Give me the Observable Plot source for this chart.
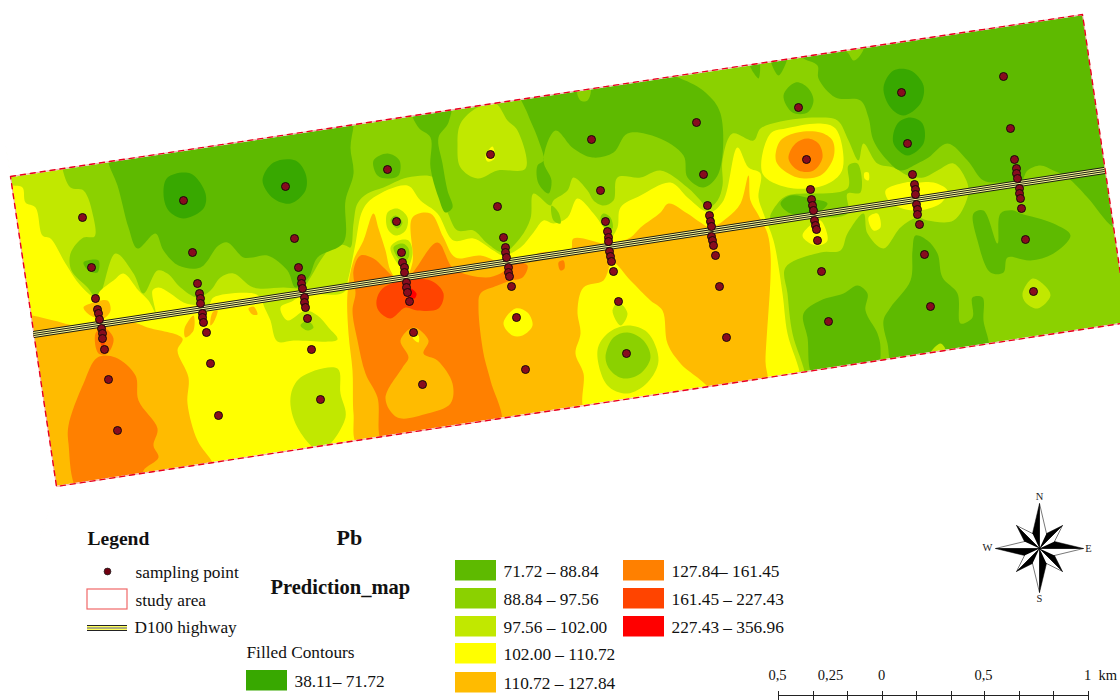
<!DOCTYPE html>
<html>
<head>
<meta charset="utf-8">
<script src="https://cdn.jsdelivr.net/npm/d3@7"></script>
<script src="https://cdn.jsdelivr.net/npm/@observablehq/plot@0.6"></script>
<style>
html,body{margin:0;padding:0;background:#fff;overflow:hidden}
svg{display:block}
</style>
</head>
<body>
<div id="chart"></div>
<script>
const bandLabels = ["38.11– 71.72","71.72 – 88.84","88.84 – 97.56","97.56 – 102.00","102.00 – 110.72","110.72 – 127.84","127.84– 161.45","161.45 – 227.43","227.43 – 356.96"];
const bandColors = ["#38a800","#5eba00","#8bd100","#c1e800","#ffff00","#ffbb00","#ff8000","#ff4400","#ff0000"];
const [B38,B72,B89,B98,B102,B111,B128,B161,B227] = bandLabels;

const studyArea = [[10,176],[1082,14],[1127,322],[56,486],[10,176]];
const outsideArea = [
  [[-20,-20],[1140,-20],[1082,14],[10,176]],
  [[1082,14],[1140,-20],[1140,322],[1127,322]],
  [[56,486],[1127,322],[1140,322],[1140,720],[-20,720]],
  [[10,176],[-20,-20],[-20,720],[56,486]]
];
const highway = [[33,334],[1104,170]];
const samplingPoints = [
 [82,217],[91,267],[95,298],[97,309],[98,313],[99,319],[101,328],[102,333],[102,338],[104,349],[108,379],[117,430],
 [183,200],[192,252],[197,283],[199,293],[200,298],[200,303],[202,313],[202,317],[203,322],[206,332],[210,363],[218,415],
 [285,186],[294,238],[298,267],[301,278],[301,283],[302,288],[304,297],[304,302],[305,307],[307,318],[311,349],[320,399],
 [387,169],[396,221],[401,252],[402,262],[404,267],[404,272],[406,282],[406,287],[407,292],[409,301],[413,332],[422,384],
 [490,154],[497,206],[503,237],[505,247],[505,252],[506,257],[508,267],[508,272],[509,276],[511,286],[516,317],[525,369],
 [591,139],[600,190],[605,221],[607,231],[608,237],[608,241],[609,251],[610,256],[611,261],[613,271],[618,301],[626,353],
 [696,122],[703,174],[707,205],[709,215],[710,221],[711,226],[711,236],[712,240],[713,245],[715,255],[719,286],[726,337],
 [798,107],[806,159],[810,189],[811,199],[812,205],[813,210],[814,220],[815,225],[816,229],[817,240],[821,271],[828,321],
 [901,92],[907,143],[912,174],[914,184],[915,189],[915,194],[916,204],[917,209],[917,214],[919,224],[924,254],[930,306],
 [1003,76],[1010,128],[1014,159],[1016,168],[1016,173],[1017,178],[1019,188],[1019,193],[1020,198],[1021,208],[1025,239],[1033,291]
];

const contourRegions = [
 [B89,[[0,150],[1130,0],[1140,330],[0,520]]],
 // lime main
 [B98,[[5,170],[62,160],[62,168],[70,187],[83,190],[93,217],[94,236],[83,237],[70,253],[71,270],[87,287],[97,298],[115,253],[133,273],[143,293],[157,270],[167,273],[180,287],[197,297],[210,290],[220,277],[233,273],[253,287],[283,287],[302,287],[310,277],[320,260],[333,245],[345,245],[350,247],[353,223],[357,203],[367,193],[383,187],[407,177],[433,177],[437,190],[447,212],[457,230],[473,230],[487,243],[503,252],[520,237],[530,218],[533,193],[550,205],[553,200],[567,190],[573,177],[587,190],[593,200],[603,205],[613,200],[617,177],[640,177],[660,170],[687,187],[700,200],[707,208],[717,200],[722,185],[722,160],[732,133],[753,140],[760,128],[780,121],[817,117],[837,120],[848,140],[858,160],[863,143],[877,163],[893,167],[907,175],[923,177],[937,170],[953,163],[967,183],[967,197],[953,220],[927,220],[917,217],[900,227],[883,248],[867,233],[863,213],[847,233],[840,250],[820,252],[785,267],[787,293],[792,333],[805,378],[800,400],[600,425],[420,450],[200,480],[40,510],[15,340]]],
 // yellow main
 [B102,[[5,185],[12,185],[22,187],[25,202],[35,207],[42,235],[50,238],[65,263],[80,285],[95,297],[100,290],[113,280],[123,273],[138,290],[148,300],[155,312],[152,290],[158,287],[170,293],[183,302],[197,305],[208,305],[213,297],[253,293],[263,298],[302,293],[343,292],[348,277],[355,243],[362,210],[373,197],[407,185],[420,200],[437,213],[453,240],[473,238],[493,250],[503,255],[520,247],[533,232],[543,220],[553,223],[567,217],[577,198],[593,213],[603,227],[610,237],[617,227],[620,207],[640,195],[670,182],[687,197],[703,210],[710,212],[723,200],[737,147],[748,167],[760,173],[758,197],[763,213],[773,240],[782,293],[787,333],[800,378],[795,400],[600,425],[420,450],[200,480],[40,510],[15,340]]],
 [B98,[[263,298],[270,320],[277,341],[293,340],[337,339],[328,327],[317,315],[305,310],[287,320],[280,307],[293,300],[302,293]]],
 [B89,[[300,325],[307,320],[313,327],[307,330]]],
 [B98,[[290,397],[300,377],[337,368],[340,393],[345,417],[320,450],[297,427]]],
 // left orange
 [B111,[[25,315],[31,315],[53,320],[87,327],[93,322],[133,322],[147,327],[182,338],[177,350],[188,377],[187,403],[197,440],[212,462],[214,472],[130,485],[50,495],[32,400]]],
 [B111,[[83,307],[90,303],[107,300],[110,310],[103,318],[90,315]]],
 [B111,[[184,328],[193,315],[193,330],[185,337]]],
 [B111,[[212,312],[217,310],[213,322],[210,325]]],
 [B111,[[248,308],[253,306],[257,314],[252,314]]],
 [B128,[[97,357],[115,357],[135,375],[138,400],[157,428],[153,445],[158,457],[143,470],[143,480],[110,486],[78,490],[68,443],[68,425],[83,383]]],
 [B128,[[95,333],[103,327],[113,338],[107,353],[98,353]]],
 [B161,[[99,335],[105,338],[102,347]]],
 // central orange
 [B111,[[347,293],[353,260],[363,240],[373,213],[378,228],[385,250],[390,270],[398,280],[405,278],[412,262],[412,217],[430,213],[443,237],[455,257],[480,255],[500,262],[517,263],[540,252],[570,250],[573,238],[603,243],[610,243],[630,237],[640,227],[660,212],[668,203],[687,213],[700,222],[710,227],[727,217],[740,203],[748,175],[750,200],[757,213],[767,233],[770,253],[770,277],[765,360],[765,385],[660,402],[560,418],[460,434],[358,445],[353,413],[352,370],[348,333]]],
 [B102,[[612,262],[630,280],[650,300],[662,310],[667,343],[680,363],[708,390],[645,402],[585,410],[583,373],[575,353],[580,333],[577,310],[583,287],[603,280]]],
 [B98,[[612,310],[618,302],[627,313],[620,325]]],
 [B98,[[597,350],[607,333],[627,325],[647,332],[658,360],[647,382],[627,393],[607,385]]],
 [B89,[[605,357],[613,337],[627,332],[643,340],[650,357],[640,373],[623,378],[610,370]]],
 [B102,[[503,323],[515,308],[527,312],[532,325],[522,335],[512,335]]],
 [B128,[[355,293],[353,270],[360,255],[373,258],[383,267],[395,277],[407,277],[437,242],[453,268],[485,277],[500,273],[515,262],[527,265],[522,277],[510,280],[497,285],[480,293],[478,307],[483,353],[490,380],[500,425],[440,434],[383,443],[377,397],[365,373],[357,340],[352,310]]],
 [B128,[[558,262],[563,260],[564,268],[560,270]]],
 [B111,[[385,398],[402,367],[408,357],[400,340],[413,327],[428,340],[423,353],[437,360],[452,383],[450,403],[427,413],[397,417]]],
 [B102,[[412,337],[418,335],[418,342]]],
 [B161,[[376,300],[382,288],[403,280],[430,280],[443,293],[438,308],[417,310],[405,307],[390,318],[378,310]]],
 [B227,[[408,287],[416,293],[414,298],[408,297]]],
 // column 4 rings
 [B98,[[387,212],[397,208],[407,217],[405,230],[395,235],[387,228]]],
 [B89,[[390,220],[395,215],[402,222],[397,228]]],
 [B98,[[390,247],[398,240],[408,240],[412,253],[405,270],[397,263]]],
 [B89,[[393,247],[402,243],[408,248],[408,257],[402,262]]],
 // north greens
 [B72,[[108,150],[230,130],[353,110],[353,125],[350,147],[353,173],[345,200],[343,242],[317,257],[308,277],[295,287],[287,270],[267,255],[252,257],[243,257],[227,242],[218,245],[200,267],[178,265],[163,250],[155,233],[137,248],[128,227],[117,185],[108,162]]],
 [B72,[[83,262],[98,260],[97,272],[88,270]]],
 [B38,[[163,193],[167,177],[190,173],[205,193],[203,208],[183,218],[168,210]]],
 [B38,[[262,180],[273,162],[295,160],[305,173],[305,190],[290,203],[273,198]]],
 [B72,[[373,160],[387,153],[399,160],[398,175],[387,178],[377,175]]],
 [B72,[[412,110],[450,100],[448,122],[438,137],[442,163],[447,190],[452,207],[445,212],[438,197],[430,167],[430,137],[418,127]]],
 [B98,[[460,123],[477,107],[495,103],[507,120],[517,130],[525,168],[497,170],[477,178],[460,167],[457,145]]],
 [B102,[[485,155],[492,146],[494,158],[487,161]]],
 [B72,[[520,90],[585,78],[650,70],[680,78],[705,92],[720,113],[718,173],[703,187],[687,177],[683,155],[657,137],[627,133],[613,152],[592,157],[573,148],[555,130],[543,160],[551,180],[548,193],[538,183],[537,165],[543,160],[537,137],[527,113]]],
 [B89,[[577,90],[590,88],[587,100],[580,100]]],
 [B89,[[551,205],[558,212],[560,223],[553,220]]],
 [B89,[[600,217],[603,213],[610,217],[612,228],[605,228]]],
 [B72,[[748,60],[758,58],[758,78]]],
 [B72,[[770,55],[787,53],[778,75]]],
 // bullseye and column 8
 [B102,[[762,173],[770,133],[785,128],[820,123],[835,128],[843,157],[840,173],[823,185],[787,187]]],
 [B111,[[775,157],[780,140],[797,132],[820,132],[832,140],[833,157],[820,175],[797,177],[778,165]]],
 [B128,[[788,158],[795,143],[807,138],[818,143],[822,157],[813,170],[798,170]]],
 [B89,[[777,203],[787,195],[847,188],[848,165],[857,163],[860,192],[847,193],[847,213],[803,217],[770,218]]],
 [B72,[[780,203],[790,195],[810,198],[827,203],[817,212],[790,213]]],
 [B102,[[802,235],[812,223],[820,220],[827,240],[818,245],[808,242]]],
 [B72,[[783,95],[795,82],[807,87],[813,100],[807,112],[792,112]]],
 // north-east greens
 [B72,[[802,50],[802,57],[817,65],[818,78],[835,97],[860,100],[868,117],[873,140],[887,160],[900,170],[917,163],[928,157],[947,143],[967,160],[983,180],[1003,182],[1020,182],[1027,170],[1040,165],[1053,170],[1067,177],[1087,197],[1113,227],[1135,235],[1135,0],[1082,0],[950,20]]],
 [B89,[[845,50],[863,47],[858,57],[853,60],[848,53]]],
 [B38,[[883,87],[893,70],[910,70],[923,85],[920,103],[903,115],[890,107]]],
 [B38,[[893,143],[897,123],[910,117],[922,123],[923,143],[907,155]]],
 // column 9 yellows
 [B102,[[885,190],[905,182],[917,182],[933,182],[947,190],[940,203],[913,210],[890,202]]],
 [B102,[[868,217],[877,213],[880,227],[873,230]]],
 [B102,[[864,172],[868,172],[868,180],[864,178]]],
 // south-east greens
 [B72,[[803,313],[820,300],[843,293],[857,285],[867,293],[865,310],[877,333],[880,347],[877,365],[845,371],[813,375],[807,337]]],
 [B72,[[883,320],[890,307],[910,280],[912,250],[915,235],[927,240],[937,253],[942,277],[957,293],[960,323],[972,317],[972,297],[982,297],[983,320],[987,350],[940,357],[893,365],[887,343]]],
 [B98,[[930,353],[940,343],[945,350],[935,358]]],
 [B72,[[973,213],[983,210],[997,243],[1000,213],[1013,210],[1020,213],[1053,223],[1070,235],[1053,253],[1030,260],[1007,257],[1003,272],[990,272],[977,240]]],
 [B98,[[1022,293],[1032,278],[1042,283],[1050,295],[1037,308],[1025,302]]]
];

const legendTitles = [
 {t:"Legend",x:87,y:538,s:19.5},{t:"Pb",x:336,y:537,s:22},{t:"Prediction_map",x:270,y:587,s:20.5}
];
const legendLabels = [
 {t:"sampling point",x:135,y:572},{t:"study area",x:135,y:600},{t:"D100 highway",x:134,y:627},{t:"Filled Contours",x:246,y:652}
];
const swatchColumn = [246,455,455,455,455,455,623,623,623];
const swatchRow = [670,560,588,616,643,672,560,588,616];
const scaleTicks = [778,813,847,882,916,951,984,1019,1053,1088];
const scaleLabels = [{t:"0,5",x:777},{t:"0,25",x:830},{t:"0",x:881},{t:"0,5",x:983},{t:"1  km",x:1100}];
const compassCentre = [1039,548];
const compassTips = [[0,-45],[23,-23],[44,0],[23,23],[0,44],[-23,23],[-44,0],[-23,-23]];
const compassInner = [[-7,-15],[7,-15],[15,-7],[15,7],[7,15],[-7,15],[-15,7],[-15,-7]];
const compassLetters = [{t:"N",x:1039,y:496},{t:"E",x:1088,y:548},{t:"S",x:1039,y:598},{t:"W",x:987,y:547}];

const serif = "'Liberation Serif','Times New Roman',serif";
const regionVertices = contourRegions.flatMap(([band,ring],id)=>ring.map(([x,y])=>({x,y,id,band})));
const outsideVertices = outsideArea.flatMap((ring,id)=>ring.map(([x,y])=>({x,y,id})));
const swatches = bandLabels.map((band,i)=>({band,x:swatchColumn[i],y:swatchRow[i]}));
const armVertices = (side)=>compassTips.flatMap((tip,i)=>{
  const inner = side==="black"?compassInner[i]:compassInner[(i+1)%8];
  return [[0,0],tip,inner].map(([dx,dy])=>({x:compassCentre[0]+dx,y:compassCentre[1]+dy,id:i}));
});
const lineX = d=>d[0], lineY = d=>d[1];
const road = {x:lineX,y:lineY,strokeLinecap:"butt"};

const chart = Plot.plot({
  width:1120,height:700,margin:0,
  x:{domain:[0,1120],axis:null},
  y:{domain:[0,700],reverse:true,axis:null},
  color:{type:"ordinal",domain:bandLabels,range:bandColors},
  style:{background:"#fff",fontFamily:serif},
  marks:[
    Plot.line(regionVertices,{x:"x",y:"y",z:"id",fill:"band",stroke:null,strokeWidth:0,curve:"catmull-rom-closed"}),
    Plot.line(outsideVertices,{x:"x",y:"y",z:"id",fill:"#fff",stroke:"#fff",strokeWidth:1.5}),
    Plot.line(studyArea,{x:lineX,y:lineY,stroke:"#f7b0b0",strokeWidth:1}),
    Plot.line(studyArea,{x:lineX,y:lineY,stroke:"#e8001c",strokeWidth:1.4,strokeDasharray:"5,5"}),
    Plot.line(highway,{...road,stroke:"#1c1c14",strokeWidth:7}),
    Plot.line(highway,{...road,stroke:"#ffff99",strokeWidth:5}),
    Plot.line(highway,{...road,stroke:"#1c1c14",strokeWidth:3}),
    Plot.line(highway,{...road,stroke:"#ffff99",strokeWidth:1}),
    Plot.dot(samplingPoints,{x:lineX,y:lineY,r:4,fill:"#870c1e",stroke:"#1a0a0a",strokeWidth:1}),
    // legend
    Plot.text(legendTitles,{x:"x",y:"y",text:"t",fontSize:"s",fontWeight:"bold",textAnchor:"start",fill:"#111"}),
    Plot.text(legendLabels,{x:"x",y:"y",text:"t",fontSize:17.3,textAnchor:"start",fill:"#111"}),
    Plot.dot([[107,571]],{x:lineX,y:lineY,r:3.4,fill:"#700010",stroke:"#222",strokeWidth:0.8}),
    Plot.rect([[87,127,589,609]],{x1:d=>d[0],x2:d=>d[1],y1:d=>d[2],y2:d=>d[3],fill:"#fff",stroke:"#f06868",strokeWidth:1.2}),
    Plot.ruleY([625,627.5,630],{x1:87,x2:127,stroke:"#222",strokeWidth:1}),
    Plot.ruleY([626.2,628.8],{x1:87,x2:127,stroke:"#ffff55",strokeWidth:1.2}),
    Plot.rect(swatches,{x1:"x",x2:d=>d.x+41,y1:"y",y2:d=>d.y+20.5,fill:"band"}),
    Plot.text(swatches,{x:d=>d.x+48,y:d=>d.y+11,text:"band",fontSize:17.3,textAnchor:"start",fill:"#111"}),
    // scale bar
    Plot.ruleY([695],{x1:778,x2:1088,stroke:"#222",strokeWidth:1}),
    Plot.ruleX(scaleTicks,{y1:691,y2:700,stroke:"#222",strokeWidth:1}),
    Plot.text(scaleLabels,{x:"x",y:675,text:"t",fontSize:14.5,fill:"#111"}),
    // north arrow
    Plot.line(armVertices("white"),{x:"x",y:"y",z:"id",fill:"#fff",stroke:"#555",strokeWidth:0.8}),
    Plot.line(armVertices("black"),{x:"x",y:"y",z:"id",fill:"#000",stroke:"#000",strokeWidth:0.5}),
    Plot.text(compassLetters,{x:"x",y:"y",text:"t",fontSize:10.5,fill:"#222"})
  ]
});
document.getElementById("chart").append(chart);
</script>
</body>
</html>
